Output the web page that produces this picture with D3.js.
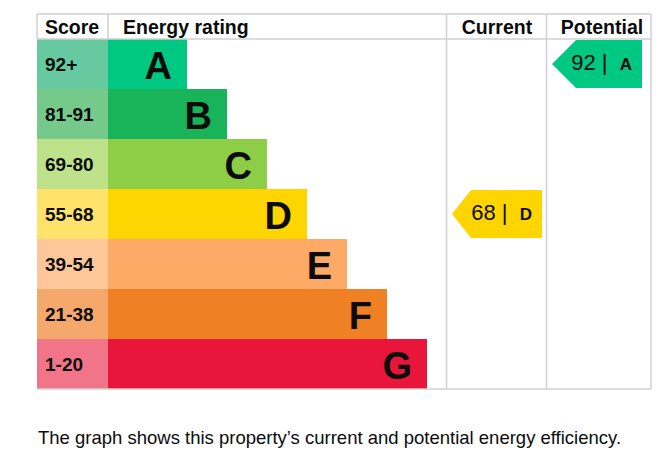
<!DOCTYPE html>
<html><head><meta charset="utf-8">
<script src="https://cdn.jsdelivr.net/npm/d3@7"></script>
<style>body{margin:0;background:#fff;}svg{display:block;}</style>
</head><body>
<svg id="c" width="663" height="465"></svg>
<script>
const ratings = ["A","B","C","D","E","F","G"];
const scoreRanges = ["92+","81-91","69-80","55-68","39-54","21-38","1-20"];
const barLengths = [2,3,4,5,6,7,8];
const barColors = ["#00c781","#19b459","#8dce46","#ffd500","#fcaa65","#ef8023","#e9153b"];
const scoreColors = ["#66c9a0","#75c98b","#bde28a","#ffe26a","#fdc79a","#f5a86b","#f27489"];
const headers = ["Score","Energy rating","Current","Potential"];
const currentScore = 68, currentRating = "D";
const potentialScore = 92, potentialRating = "A";
const caption = "The graph shows this property\u2019s current and potential energy efficiency.";

const svg = d3.select("#c");
const L = 37, R = 651, T = 14, H0 = 39, B = 389;
const colScore = 108, colCur = 446.5, colPot = 546.5;
const y = d3.scaleBand().domain(ratings).range([H0, B]);
const x = d3.scaleLinear().domain([0, 8]).range([107, 427]);
const font = "Arial, 'Liberation Sans', sans-serif";
const grid = "#d0d0d0";

// rows
const row = svg.selectAll("g.row").data(ratings).join("g");
row.append("rect").attr("x", L).attr("y", d => y(d)).attr("width", colScore - L).attr("height", y.bandwidth())
  .attr("fill", (d,i) => scoreColors[i]);
row.append("rect").attr("x", colScore).attr("y", d => y(d)).attr("width", (d,i) => x(barLengths[i]) - colScore).attr("height", y.bandwidth())
  .attr("fill", (d,i) => barColors[i]);
row.append("text").attr("x", 45).attr("y", d => y(d) + y.bandwidth()/2).attr("dy", "0.36em")
  .attr("font-family", font).attr("font-weight", "bold").attr("font-size", 19).attr("fill", "#0b0c0c")
  .text((d,i) => scoreRanges[i]);
row.append("text").attr("x", (d,i) => x(barLengths[i]) - 15).attr("y", d => y(d) + y.bandwidth()/2 + 1.5).attr("dy", "0.36em")
  .attr("text-anchor", "end").attr("font-family", font).attr("font-weight", "bold").attr("font-size", 38).attr("fill", "#0b0c0c")
  .text(d => d);

// grid lines
const lines = [
  [L, T, R, T], [L, H0, R, H0], [L, B, R, B], [L, T, L, H0], [R, T, R, B],
  [colScore, T, colScore, H0], [colCur, T, colCur, B], [colPot, T, colPot, B]
];
svg.selectAll("line.g").data(lines).join("line")
  .attr("x1", d => d[0]).attr("y1", d => d[1]).attr("x2", d => d[2]).attr("y2", d => d[3])
  .attr("stroke", grid).attr("stroke-width", 1.5);

// headers
const hx = [[45, "start"], [123, "start"], [497, "middle"], [602, "middle"]];
svg.selectAll("text.h").data(headers).join("text")
  .attr("x", (d,i) => hx[i][0]).attr("text-anchor", (d,i) => hx[i][1]).attr("y", 27).attr("dy", "0.36em")
  .attr("font-family", font).attr("font-weight", "bold").attr("font-size", 19.5).attr("fill", "#0b0c0c")
  .text(d => d);

// arrows
function arrow(left, right, score, rating, tip) {
  const i = ratings.indexOf(rating);
  const top = y(rating) + 1, bot = y(rating) + y.bandwidth() - 1, mid = (top + bot)/2;
  svg.append("path")
    .attr("d", `M${left},${mid}L${left+tip},${top}L${right},${top}L${right},${bot}L${left+tip},${bot}Z`)
    .attr("fill", barColors[i]);
  const t = svg.append("text").attr("x", right - 10).attr("y", mid).attr("dy", "0.36em").attr("text-anchor", "end")
    .attr("font-family", font).attr("fill", "#0b0c0c");
  t.append("tspan").attr("font-size", 22).text(score + " |\u00a0\u00a0");
  t.append("tspan").attr("font-size", 17).attr("font-weight", "bold").text(rating);
}
arrow(452, 542, currentScore, currentRating, 19);
arrow(552, 642, potentialScore, potentialRating, 24);

svg.append("text").attr("x", 38).attr("y", 444).attr("font-family", "'Liberation Sans', Arial, sans-serif")
  .attr("font-size", 18.5).attr("fill", "#0b0c0c").text(caption);
</script>
</body></html>
